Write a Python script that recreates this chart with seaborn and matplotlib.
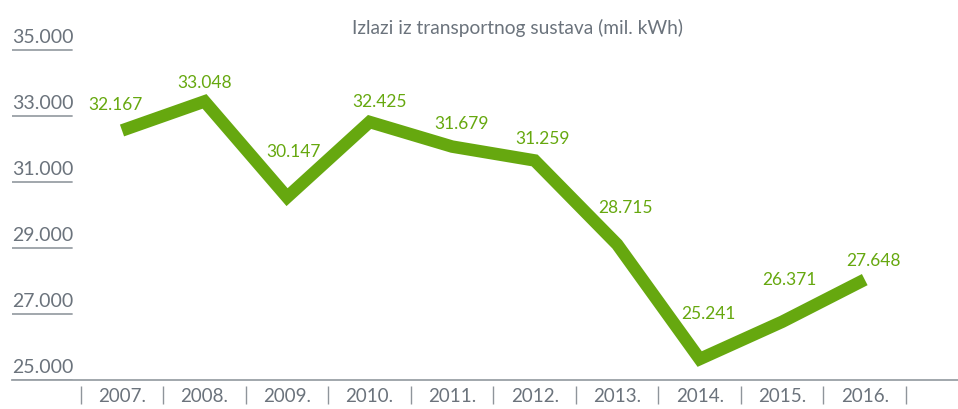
import matplotlib
matplotlib.use("Agg")
import matplotlib.pyplot as plt
import matplotlib.transforms as mtransforms
import pandas as pd
import seaborn as sns

years = ["2007.", "2008.", "2009.", "2010.", "2011.", "2012.", "2013.", "2014.", "2015.", "2016."]
values = [32167, 33048, 30147, 32425, 31679, 31259, 28715, 25241, 26371, 27648]
value_labels = ["32.167", "33.048", "30.147", "32.425", "31.679", "31.259", "28.715", "25.241", "26.371", "27.648"]
y_ticks = [25000, 27000, 29000, 31000, 33000, 35000]
y_tick_labels = ["25.000", "27.000", "29.000", "31.000", "33.000", "35.000"]
title = "Izlazi iz transportnog sustava (mil. kWh)"

# label offsets in points (styling only)
label_offsets = [(-5, 19), (0, 14), (5, 33), (7, 15), (7, 17), (6, 16), (6, 27), (6, 33), (5, 31), (6, 14)]


def main():
    sns.set_theme(style="white")
    plt.rcParams['font.family'] = ['Lato', 'DejaVu Sans']
    green = "#66a80f"
    gray = "#6b737c"

    df = pd.DataFrame({"year": years, "value": values, "x": range(len(years))})

    fig = plt.figure(figsize=(9.58, 4.10), dpi=100)
    ax = fig.add_axes([12 / 958, 29 / 410, 946 / 958, 351 / 410])

    sns.lineplot(data=df, x="x", y="value", color=green, linewidth=9, ax=ax,
                 solid_capstyle="butt", solid_joinstyle="miter")

    for i, (v, lab) in enumerate(zip(values, value_labels)):
        ax.annotate(lab, (i, v), xytext=label_offsets[i], textcoords="offset points",
                    ha="center", va="center", color=green, fontsize=12.5)

    ax.set_xlim(-1.333, 10.13)
    ax.set_ylim(24606, 35242)

    for s in ["top", "right", "left"]:
        ax.spines[s].set_visible(False)
    ax.spines["bottom"].set_color("#9aa0a6")
    ax.spines["bottom"].set_linewidth(1.3)

    ax.set_xticks(range(len(years)))
    ax.set_xticklabels(years, color=gray, fontsize=13.5)
    ax.tick_params(axis="x", length=0, pad=5)
    ax.set_yticks([])
    ax.set_xlabel("")
    ax.set_ylabel("")

    trans = mtransforms.blended_transform_factory(ax.transData, ax.transAxes)
    seps = [i - 0.5 for i in range(len(years) + 1)]
    ax.vlines(seps, -0.016, -0.068, color="#8f959b", linewidth=1, transform=trans, clip_on=False)

    ytrans = mtransforms.blended_transform_factory(ax.transAxes, ax.transData)
    for t, lab in zip(y_ticks, y_tick_labels):
        ax.text(0, t, lab, transform=ytrans, ha="left", va="center", color=gray, fontsize=14)
        ax.plot([0, 0.063], [t - 380, t - 380], transform=ytrans, color="#9aa0a6", linewidth=1.3)

    fig.text(518 / 958, 1 - 28 / 410, title, ha="center", va="center", color=gray, fontsize=13.8)

    fig.savefig("out.png", dpi=100)


if __name__ == "__main__":
    main()
